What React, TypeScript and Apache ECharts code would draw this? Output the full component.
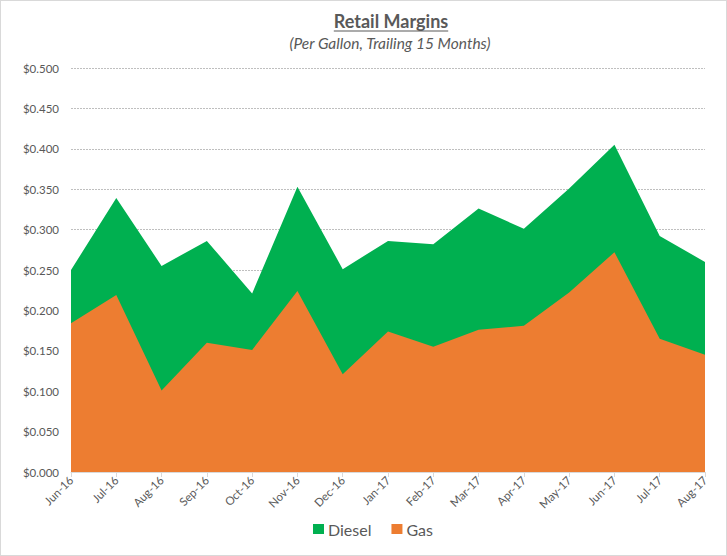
import React, { useEffect, useRef } from "react";
import * as echarts from "echarts";

const categories = ["Jun-16", "Jul-16", "Aug-16", "Sep-16", "Oct-16", "Nov-16", "Dec-16", "Jan-17", "Feb-17", "Mar-17", "Apr-17", "May-17", "Jun-17", "Jul-17", "Aug-17"];
const diesel = [0.250, 0.339, 0.255, 0.286, 0.221, 0.353, 0.251, 0.286, 0.282, 0.326, 0.301, 0.351, 0.405, 0.292, 0.260];
const gas = [0.184, 0.219, 0.101, 0.160, 0.151, 0.224, 0.121, 0.174, 0.155, 0.176, 0.181, 0.222, 0.272, 0.165, 0.145];
const titleText = "Retail Margins";
const subtitleText = "(Per Gallon, Trailing 15 Months)";

const FONT = "Lato, 'Open Sans', sans-serif";

export default function App() {
  const ref = useRef<HTMLDivElement>(null);
  useEffect(() => {
    if (!ref.current) return;
    const chart = echarts.init(ref.current, null, { renderer: "svg" });
    const ctx = document.createElement("canvas").getContext("2d");
    let tw = 114;
    if (ctx) {
      ctx.font = "bold 18px Lato";
      tw = ctx.measureText(titleText).width;
    }
    const cx = 390;
    chart.setOption({
      animation: false,
      backgroundColor: "#ffffff",
      graphic: [
        {
          type: "text",
          x: cx,
          y: 11,
          style: { text: titleText, font: `bold 18px ${FONT}`, fill: "#595959", textAlign: "center", textVerticalAlign: "top" },
        },
        {
          type: "line",
          shape: { x1: cx - tw / 2, y1: 30, x2: cx + tw / 2, y2: 30 },
          style: { stroke: "#595959", lineWidth: 1.2 },
        },
        {
          type: "text",
          x: 389,
          y: 34,
          style: { text: subtitleText, font: `italic 15.5px ${FONT}`, fill: "#595959", textAlign: "center", textVerticalAlign: "top" },
        },
      ],
      legend: {
        bottom: 13,
        left: 307,
        itemWidth: 11,
        itemHeight: 10,
        itemGap: 20,
        icon: "rect",
        textStyle: { color: "#595959", fontSize: 16, fontFamily: FONT, padding: [0, 0, 0, -1] },
        data: ["Diesel", "Gas"],
      },
      grid: { left: 70, right: 21, top: 67, bottom: 83, containLabel: false },
      xAxis: {
        type: "category",
        data: categories,
        boundaryGap: false,
        axisLine: { lineStyle: { color: "#d9d9d9" } },
        axisTick: { show: true, alignWithLabel: true, length: 5, lineStyle: { color: "#d9d9d9" } },
        axisLabel: { rotate: 45, color: "#595959", fontSize: 11.5, fontFamily: FONT, margin: 6, interval: 0 },
        splitLine: { show: false },
      },
      yAxis: {
        type: "value",
        min: 0,
        max: 0.5,
        interval: 0.05,
        axisLine: { show: false },
        axisTick: { show: false },
        axisLabel: {
          color: "#595959",
          fontSize: 11.5,
          fontFamily: FONT,
          margin: 12,
          formatter: (v: number) => "$" + v.toFixed(3),
        },
        splitLine: { lineStyle: { color: "#bfbfbf", type: [2, 1], width: 1 } },
      },
      series: [
        {
          name: "Diesel",
          type: "line",
          data: diesel,
          symbol: "none",
          lineStyle: { width: 0 },
          areaStyle: { color: "#00B050", opacity: 1 },
          itemStyle: { color: "#00B050" },
        },
        {
          name: "Gas",
          type: "line",
          data: gas,
          symbol: "none",
          lineStyle: { width: 0 },
          areaStyle: { color: "#ED7D31", opacity: 1 },
          itemStyle: { color: "#ED7D31" },
        },
      ],
    });
    return () => chart.dispose();
  }, []);
  return (
    <div
      ref={ref}
      style={{
        position: "absolute",
        left: 0,
        top: 0,
        width: 727,
        height: 556,
        boxSizing: "border-box",
        border: "1px solid #d9d9d9",
      }}
    />
  );
}
